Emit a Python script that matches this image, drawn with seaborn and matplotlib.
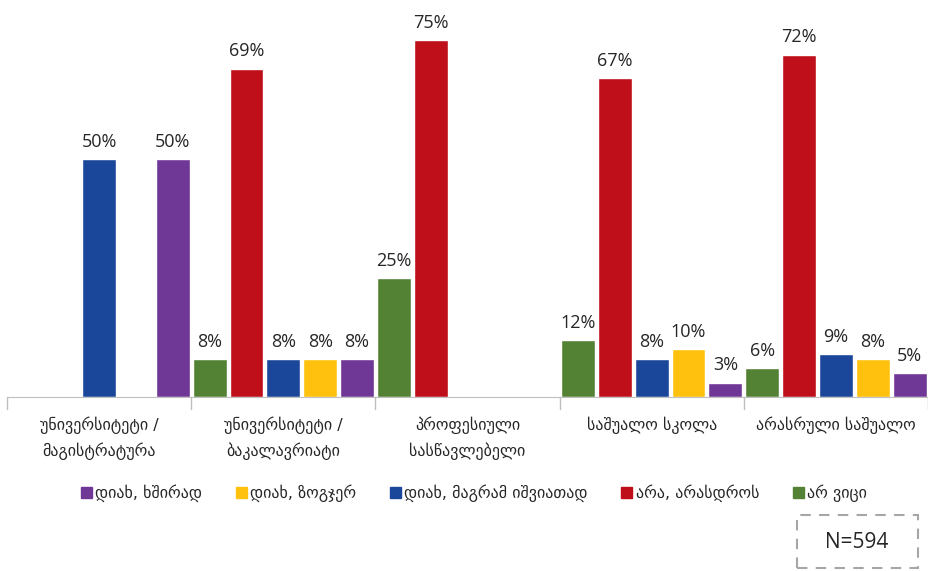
import pandas as pd
import matplotlib.pyplot as plt
import seaborn as sns
from matplotlib.patches import Patch, FancyBboxPatch

# data
categories = ["უნივერსიტეტი /\nმაგისტრატურა", "უნივერსიტეტი /\nბაკალავრიატი",
              "პროფესიული\nსასწავლებელი", "საშუალო სკოლა", "არასრული საშუალო"]
series = ["არ ვიცი", "არა, არასდროს", "დიახ, მაგრამ იშვიათად", "დიახ, ზოგჯერ", "დიახ, ხშირად"]
dont_know = [0, 8, 25, 12, 6]
never = [0, 69, 75, 67, 72]
rarely = [50, 8, 0, 8, 9]
sometimes = [0, 8, 0, 10, 8]
often = [50, 8, 0, 3, 5]
legend_order = ["დიახ, ხშირად", "დიახ, ზოგჯერ", "დიახ, მაგრამ იშვიათად", "არა, არასდროს", "არ ვიცი"]

colors = {"არ ვიცი": "#548235", "არა, არასდროს": "#BE0F1A", "დიახ, მაგრამ იშვიათად": "#1B479B",
          "დიახ, ზოგჯერ": "#FFC10E", "დიახ, ხშირად": "#703896"}

rows = []
for name, vals in zip(series, [dont_know, never, rarely, sometimes, often]):
    for cat, v in zip(categories, vals):
        rows.append({"cat": cat, "series": name, "value": v})
df = pd.DataFrame(rows)

sns.set_style("white")
plt.rcParams['font.family'] = ['DejaVu Sans']

fig = plt.figure(figsize=(9.29, 5.71), dpi=100)
ax = fig.add_axes([7 / 929, 1 - 397 / 571, 921 / 929, 390 / 571])

sns.barplot(data=df, x="cat", y="value", hue="series", hue_order=series,
            order=categories, palette=colors, width=1.0, gap=0.08, ax=ax,
            legend=False, saturation=1)

for container in ax.containers:
    for bar in container:
        h = bar.get_height()
        if h > 0:
            ax.annotate(f"{h:.0f}%", (bar.get_x() + bar.get_width() / 2, h),
                        xytext=(0, 6), textcoords="offset points", family="Open Sans",
                        ha="center", va="bottom", fontsize=13, color="#262626")

ax.set_ylim(0, 82)
ax.set_xlim(-0.5, len(categories) - 0.5)
ax.set_yticks([])
ax.set_xlabel("")
ax.set_ylabel("")
for s in ["top", "right", "left"]:
    ax.spines[s].set_visible(False)
ax.spines["bottom"].set_color("#BFBFBF")
ax.set_xticks(range(len(categories)))
ax.set_xticklabels(categories, fontsize=11.5, color="#262626", linespacing=1.6)
ax.tick_params(axis="x", length=0, pad=14)
for b in [i - 0.5 for i in range(len(categories) + 1)]:
    ax.plot([b, b], [0, -0.03], transform=ax.get_xaxis_transform(),
            color="#BFBFBF", lw=1, clip_on=False)

handles = [Patch(color=colors[s]) for s in legend_order]
fig.legend(handles, legend_order, loc="center", bbox_to_anchor=(0.51, 1 - 493 / 571),
           ncol=5, frameon=False, fontsize=11.5, handlelength=0.7, handleheight=0.7,
           handletextpad=0.2, columnspacing=2.1)

box = FancyBboxPatch((797 / 929, 3 / 571), 121 / 929, 53 / 571, boxstyle="square,pad=0",
                     transform=fig.transFigure, fill=False, edgecolor="#A6A6A6",
                     linestyle=(0, (5, 4)), lw=1.5)
fig.patches.append(box)
fig.text(857 / 929, 1 - 543 / 571, "N=594", ha="center", va="center", fontsize=15,
         family="Open Sans", color="#262626")

fig.savefig("out.png", dpi=100)
